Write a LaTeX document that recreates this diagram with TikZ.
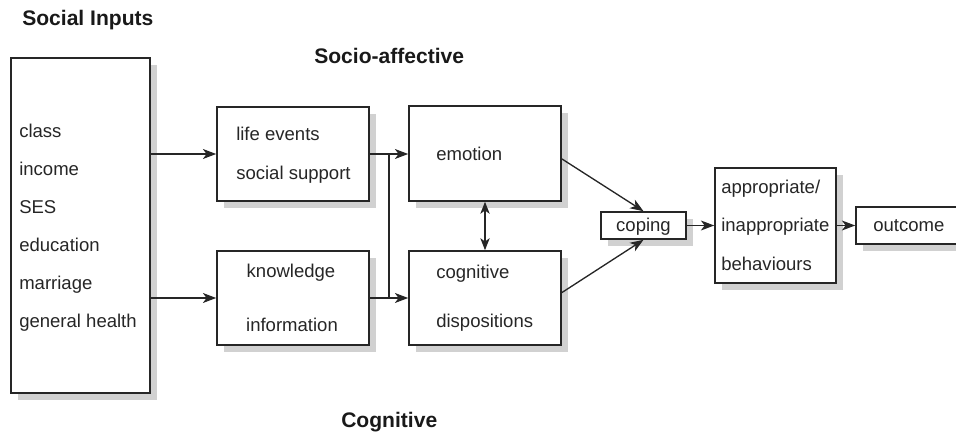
\documentclass[tikz,border=0pt]{standalone}
\usepackage{fontspec}
\setmainfont{Liberation Sans}
\usetikzlibrary{arrows.meta,fit,shadows}

\tikzset{
  box/.style={draw=black!85, line width=1.2pt, fill=white, inner sep=0pt,
    drop shadow={shadow xshift=5.25pt, shadow yshift=-5.25pt, fill=black!18, opacity=1}},
  lbl/.style={inner sep=0pt, anchor=base west, font=\fontsize{13.9}{16}\selectfont, text=black!85},
  lblc/.style={lbl, anchor=base},
  ttl/.style={inner sep=0pt, anchor=base west, font=\fontsize{15.8}{18}\selectfont\bfseries, text=black!90},
  link/.style={draw=black!85, line width=1pt},
  tip/.style={Stealth[length=10pt,width=7.5pt,inset=2.8pt]},
  arr/.style={link, -{Stealth[length=10pt,width=7.5pt,inset=2.8pt]}},
  darr/.style={link, {Stealth[length=9pt,width=7pt,inset=2.5pt]}-{Stealth[length=9pt,width=7pt,inset=2.5pt]}}
}

\begin{document}
\begin{tikzpicture}[x=0.75pt,y=-0.75pt]
\useasboundingbox (0,0) rectangle (956,434);

% section headings
\node[ttl] (tsocial) at (22,26) {Social Inputs};
\node[ttl] (taffect) at (314,64) {Socio-affective};
\node[ttl] (tcogn) at (341,427) {Cognitive};

% boxes
\node[box, fit={(11,58) (150,393)}] (inputs) {};
\node[box, fit={(217,107) (369,201)}] (life) {};
\node[box, fit={(217,251) (369,345)}] (know) {};
\node[box, fit={(409,106) (561,201)}] (emotion) {};
\node[box, fit={(409,251) (561,345)}] (cogn) {};
\node[box, fit={(601,212) (686,239)}] (coping) {};
\node[box, fit={(715,168) (836,283)}] (behav) {};
\node[box, fit={(856,207) (968,244)}] (outcome) {};

% social inputs list
\node[lbl] (i1) at (19,138) {class};
\node[lbl] (i2) at (19,176) {income};
\node[lbl] (i3) at (19,214) {SES};
\node[lbl] (i4) at (19,252) {education};
\node[lbl] (i5) at (19,290) {marriage};
\node[lbl] (i6) at (19,328) {general health};

% box texts
\node[lbl] (l1) at (236,141) {life events};
\node[lbl] (l2) at (236,180) {social support};
\node[lblc] (k1) at (291,278) {knowledge};
\node[lblc] (k2) at (292,332) {information};
\node[lbl] (e1) at (436,161) {emotion};
\node[lbl] (c1) at (436,279) {cognitive};
\node[lbl] (c2) at (436,328) {dispositions};
\node[lblc] (cp) at (643.5,232) {coping};
\node[lbl] (b1) at (721,194) {appropriate/};
\node[lbl] (b2) at (721,232) {inappropriate};
\node[lbl] (b3) at (721,271) {behaviours};
\node[lbl] (o1) at (873,232) {outcome};

% connectors
\coordinate (j1) at (389,154);
\coordinate (j2) at (389,298);
\draw[arr] (life.west -| inputs.east) -- (life.west);
\draw[arr] (know.west -| inputs.east) -- (know.west);
\draw[arr] (life.east) -- (emotion.west |- life.east);
\draw[arr] (know.east) -- (cogn.west |- know.east);
\draw[link] (j1) -- (j2);
\draw[darr] (emotion.south) -- (cogn.north);
\draw[arr] (emotion.-4) -- (coping.north);
\draw[arr] (cogn.4) -- (coping.south);
\draw[arr] (coping.east) -- (behav.west |- coping.east);
\draw[arr] (behav.east |- coping.east) -- (outcome.west);
\end{tikzpicture}
\end{document}
